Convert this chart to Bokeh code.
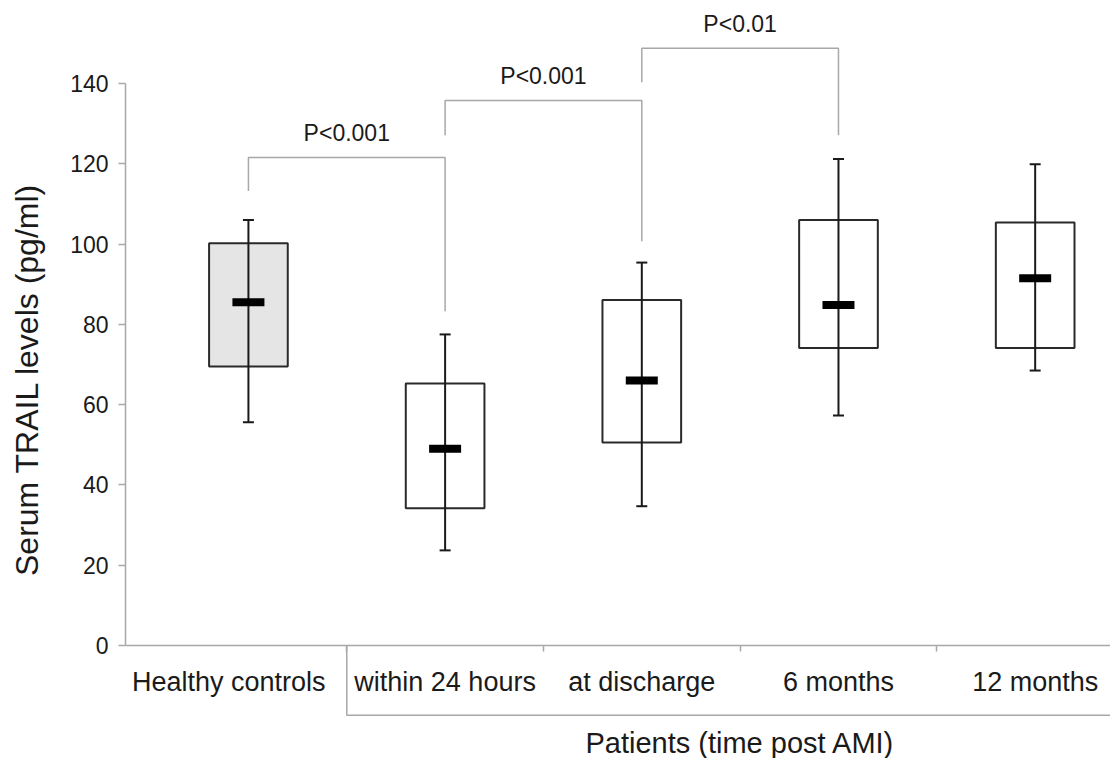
from bokeh.plotting import figure
from bokeh.models import Range1d, FixedTicker, LinearAxis, ColumnDataSource
from bokeh.core.properties import value
from bokeh.embed import file_html
from bokeh.resources import INLINE

# ---------------- data ----------------
categories = ["Healthy controls", "within 24 hours", "at discharge", "6 months", "12 months"]
q1 = [69.5, 34.2, 50.6, 74.1, 74.1]
median = [85.5, 49.0, 66.0, 84.8, 91.5]
q3 = [100.2, 65.3, 86.1, 106.0, 105.4]
whisker_low = [55.6, 23.7, 34.7, 57.3, 68.5]
whisker_high = [106.0, 77.5, 95.4, 121.2, 119.9]
box_fill = ["#e5e5e5", "#ffffff", "#ffffff", "#ffffff", "#ffffff"]

# significance brackets (category index from -> to, bar level, left/right drop ends, label)
sig_from = [0, 1, 2]
sig_to = [1, 2, 3]
sig_level = [121.6, 135.8, 148.8]
sig_left_end = [113.2, 127.1, 140.3]
sig_right_end = [83.3, 100.7, 127.1]
sig_labels = ["P<0.001", "P<0.001", "P<0.01"]

y_ticks = [0, 20, 40, 60, 80, 100, 120, 140]
y_label = "Serum TRAIL levels (pg/ml)"
group_label = "Patients (time post AMI)"
patient_start = 1  # index of first patient category

# ---------------- figure ----------------
FONT = "Liberation Sans"
TXT = "#1a1a1a"
AX = "#a8a8a8"

n = len(categories)
centers = [i + 0.5 for i in range(n)]
# tick-label anchor positions (first label sits a little left of its box, as in the original)
label_pos = [c - (0.1 if i == 0 else 0.0) for i, c in enumerate(centers)]
x_end = 4.883

p = figure(width=1110, height=758, output_backend="svg", toolbar_location=None,
           x_range=Range1d(-0.125, x_end), y_range=Range1d(-28.15, 160.69),
           x_axis_location=None, y_axis_location=None,
           min_border_left=125, min_border_right=0, min_border_top=0, min_border_bottom=0)
p.outline_line_color = None
p.background_fill_color = "white"
p.border_fill_color = "white"
for g in p.grid:
    g.visible = False

yaxis = LinearAxis(ticker=FixedTicker(ticks=y_ticks), bounds=(y_ticks[0], y_ticks[-1]),
                   axis_label=y_label, axis_label_text_font=FONT, axis_label_text_font_size="32px",
                   axis_label_text_font_style="normal", axis_label_text_color=TXT, axis_label_standoff=22,
                   major_label_text_font=FONT, major_label_text_font_size="23px",
                   major_label_text_color=TXT, major_label_standoff=10,
                   axis_line_color=AX, axis_line_width=1.5,
                   major_tick_line_color=AX, major_tick_line_width=1.5,
                   major_tick_out=7, major_tick_in=0, minor_tick_out=0, minor_tick_in=0)
p.add_layout(yaxis, "left")

xaxis = LinearAxis(ticker=FixedTicker(ticks=label_pos, minor_ticks=list(range(1, n))),
                   fixed_location=0,
                   major_label_overrides={c: lab for c, lab in zip(label_pos, categories)},
                   major_label_text_font=FONT, major_label_text_font_size="27px",
                   major_label_text_color=TXT, major_label_standoff=15,
                   axis_line_color=AX, axis_line_width=1.5,
                   major_tick_out=0, major_tick_in=0,
                   minor_tick_out=6, minor_tick_in=0, minor_tick_line_color=AX, minor_tick_line_width=1.5)
p.add_layout(xaxis, "below")

# group bracket under patient categories
grp_y = -17.4
p.line(x=[patient_start, patient_start, x_end], y=[0, grp_y, grp_y], line_color=AX, line_width=1.5)
pc = centers[patient_start:]
p.text(x=[sum(pc) / len(pc)], y=[-24.4], text=[group_label], text_align="center", text_baseline="middle",
       text_font=value(FONT), text_font_size="29px", text_color=TXT)

# significance brackets
xs = [[centers[a], centers[a], centers[b], centers[b]] for a, b in zip(sig_from, sig_to)]
ys = [[l, lev, lev, r] for l, lev, r in zip(sig_left_end, sig_level, sig_right_end)]
p.multi_line(xs=xs, ys=ys, line_color=AX, line_width=1.5)
mids = [(centers[a] + centers[b]) / 2 for a, b in zip(sig_from, sig_to)]
p.text(x=mids, y=sig_level, text=sig_labels, text_align="center", text_baseline="middle", y_offset=-24,
       text_font=value(FONT), text_font_size="23px", text_color=TXT)

# boxes
src = ColumnDataSource(dict(x=centers, q1=q1, q3=q3, med=median, lo=whisker_low, hi=whisker_high, fill=box_fill))
p.vbar(x="x", width=0.4, bottom="q1", top="q3", fill_color="fill", line_color="#2a2a2a", line_width=2, source=src)
p.segment(x0="x", y0="lo", x1="x", y1="hi", line_color="#1a1a1a", line_width=2, source=src)
p.scatter(x="x", y="lo", marker="dash", size=11, line_color="#1a1a1a", line_width=2, source=src)
p.scatter(x="x", y="hi", marker="dash", size=11, line_color="#1a1a1a", line_width=2, source=src)
p.rect(x="x", y="med", width=32, height=8, width_units="screen", height_units="screen",
       fill_color="black", line_color=None, source=src)

open("out.html", "w").write(file_html(p, INLINE))
